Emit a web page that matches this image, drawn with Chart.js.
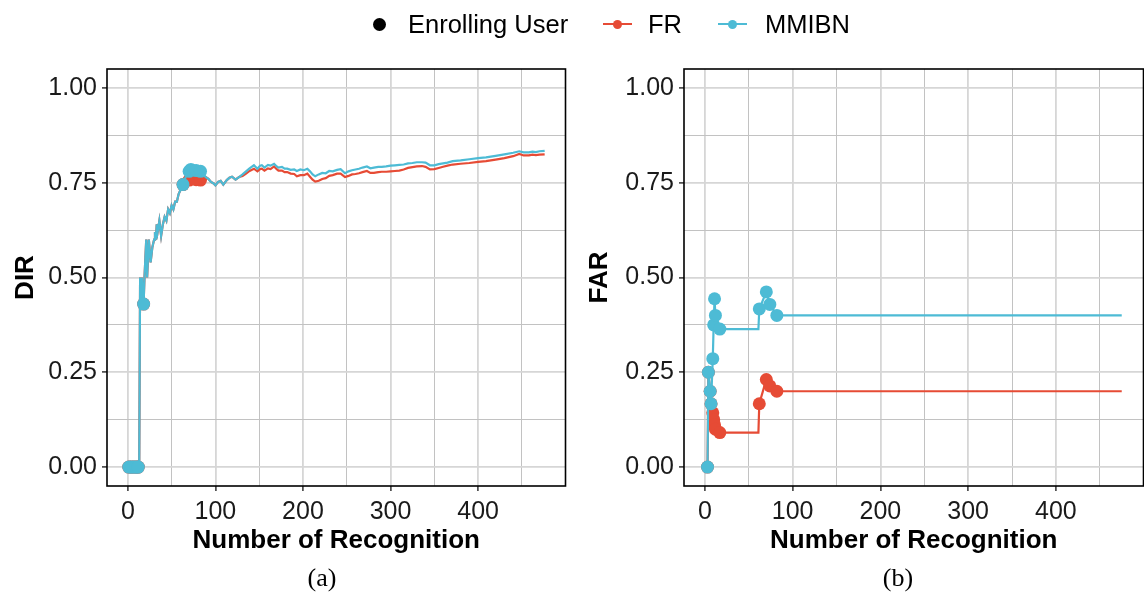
<!DOCTYPE html>
<html>
<head>
<meta charset="utf-8">
<script src="https://cdn.jsdelivr.net/npm/chart.js@4"></script>
<style>
  body { margin: 0; background: #fff; overflow: hidden; }
  #wrap { position: relative; width: 1144px; height: 593px; overflow: hidden; font-family: "Liberation Sans", Arial, sans-serif; color: #000; }
  canvas { position: absolute; top: 0; }
  .lg { position: absolute; top: 9px; font-size: 25.5px; line-height: 30px; white-space: nowrap; }
  .dot { position: absolute; border-radius: 50%; }
  .seg { position: absolute; height: 2px; }
  .cap { position: absolute; top: 563px; font-family: "Liberation Serif", "Times New Roman", serif; font-size: 26px; line-height: 30px; transform: translateX(-50%); }
</style>
</head>
<body>
<div id="wrap">
  <canvas id="dirChart" width="572" height="593" style="left:0"></canvas>
  <canvas id="farChart" width="578" height="593" style="left:572px"></canvas>

  <!-- legend -->
  <div class="dot" style="left:373px;top:18px;width:13px;height:13px;background:#000"></div>
  <div class="lg" style="left:408px">Enrolling User</div>
  <div class="seg" style="left:603px;top:23px;width:29px;background:#E64B35"></div>
  <div class="dot" style="left:613px;top:20px;width:9px;height:9px;background:#E64B35"></div>
  <div class="lg" style="left:648px">FR</div>
  <div class="seg" style="left:718px;top:23px;width:29px;background:#4DBBD5"></div>
  <div class="dot" style="left:728px;top:20px;width:9px;height:9px;background:#4DBBD5"></div>
  <div class="lg" style="left:765px">MMIBN</div>

  <div class="cap" style="left:322px">(a)</div>
  <div class="cap" style="left:898px">(b)</div>
</div>
<script>
const COLOR_FR = '#E64B35';
const COLOR_MMIBN = '#4DBBD5';

// (a) DIR vs number of recognition
const dirX = [
  1, 3, 5, 7, 9, 11, 12, 13, 14, 15,
  16, 17, 18, 19, 21, 22, 24, 26, 28, 30,
  31, 32, 33, 34, 36, 38, 40, 42, 44, 46,
  48, 50, 52, 54, 56, 58, 60, 63, 66, 70,
  72, 75, 78, 83, 86, 89, 92, 95, 98, 100,
  103, 106, 109, 113, 116, 119, 123, 127, 131, 135,
  139, 144, 148, 151, 153, 156, 160, 163, 167, 170,
  172, 176, 179, 182, 186, 190, 193, 197, 201, 205,
  208, 211, 214, 218, 222, 226, 230, 234, 239, 243,
  248, 252, 256, 260, 264, 268, 273, 277, 281, 286,
  290, 295, 300, 305, 310, 315, 320, 325, 330, 336,
  340, 345, 350, 355, 360, 365, 371, 380, 390, 400,
  409, 420, 430, 440, 447, 452, 458, 462, 466, 470,
  476
];
const dirMMIBN = [
  0, 0, 0, 0, 0, 0, 0, 0, 0.5, 0.43,
  0.5, 0.45, 0.43, 0.5, 0.6, 0.5, 0.6, 0.54, 0.58, 0.6,
  0.62, 0.6, 0.64, 0.62, 0.65, 0.61, 0.64, 0.66, 0.65, 0.68,
  0.67, 0.69, 0.68, 0.70, 0.70, 0.72, 0.73, 0.745, 0.765, 0.78,
  0.785, 0.778, 0.782, 0.78, 0.772, 0.765, 0.76, 0.752, 0.748, 0.743,
  0.752, 0.755, 0.745, 0.757, 0.763, 0.766, 0.758, 0.765, 0.772, 0.78,
  0.788, 0.796, 0.787, 0.795, 0.796, 0.79, 0.797, 0.795, 0.80, 0.793,
  0.79, 0.792, 0.787, 0.787, 0.784, 0.785, 0.781, 0.785, 0.783, 0.787,
  0.78, 0.772, 0.767, 0.772, 0.776, 0.775, 0.781, 0.78, 0.784, 0.786,
  0.775, 0.78, 0.783, 0.785, 0.787, 0.79, 0.793, 0.788, 0.79, 0.792,
  0.792, 0.793, 0.795, 0.796, 0.797, 0.798, 0.801, 0.802, 0.804, 0.804,
  0.803, 0.796, 0.796, 0.799, 0.801, 0.803, 0.807, 0.809, 0.812, 0.815,
  0.817, 0.821, 0.825, 0.829, 0.833, 0.83, 0.83, 0.832, 0.831, 0.833,
  0.834
];
const dirFR = [
  0, 0, 0, 0, 0, 0, 0, 0, 0.5, 0.43,
  0.5, 0.45, 0.43, 0.5, 0.6, 0.5, 0.6, 0.54, 0.58, 0.6,
  0.62, 0.6, 0.64, 0.62, 0.65, 0.61, 0.64, 0.66, 0.65, 0.68,
  0.67, 0.69, 0.68, 0.70, 0.70, 0.72, 0.73, 0.745, 0.755, 0.757,
  0.76, 0.755, 0.758, 0.757, 0.76, 0.765, 0.76, 0.752, 0.748, 0.743,
  0.752, 0.755, 0.745, 0.757, 0.763, 0.766, 0.758, 0.765, 0.768, 0.774,
  0.781, 0.787, 0.78, 0.786, 0.787, 0.782, 0.788, 0.786, 0.793, 0.786,
  0.782, 0.782, 0.778, 0.778, 0.774, 0.773, 0.767, 0.77, 0.77, 0.774,
  0.766, 0.758, 0.753, 0.755, 0.76, 0.762, 0.768, 0.77, 0.774, 0.774,
  0.765, 0.768, 0.772, 0.773, 0.775, 0.778, 0.781, 0.776, 0.776, 0.778,
  0.779, 0.779, 0.78, 0.781, 0.782, 0.785, 0.789, 0.791, 0.793, 0.794,
  0.792, 0.785, 0.786, 0.789, 0.792, 0.795, 0.798, 0.8, 0.802, 0.805,
  0.807, 0.811, 0.815, 0.82, 0.826, 0.822, 0.822, 0.824, 0.823, 0.824,
  0.825
];
const dirEnrollX = [1, 3, 5, 7, 9, 11, 12, 18, 63, 70, 72, 78, 83];

// (b) FAR vs number of recognition
const farX =      [3, 4, 6, 7, 9, 10, 11, 12, 13, 17, 61, 62, 70, 74, 82, 475];
const farMMIBN =  [0, 0.25, 0.2, 0.167, 0.286, 0.375, 0.444, 0.4, 0.364, 0.364, 0.364, 0.417, 0.462, 0.429, 0.4, 0.4];
const farFR =     [0, 0.25, 0.2, 0.167, 0.143, 0.125, 0.111, 0.1, 0.091, 0.091, 0.091, 0.167, 0.231, 0.214, 0.2, 0.2];
const farEnrollX = [3, 4, 6, 7, 9, 10, 11, 12, 17, 62, 70, 74, 82];

const xMajor = [0, 100, 200, 300, 400];
const yMajor = [0, 0.25, 0.5, 0.75, 1.0];

const isMajorX = v => xMajor.some(t => Math.abs(t - v) < 1e-6);
const isMajorY = v => yMajor.some(t => Math.abs(t - v) < 1e-6);

const panelBorder = {
  id: 'panelBorder',
  afterDraw(chart) {
    const { ctx, chartArea: a } = chart;
    ctx.save();
    ctx.strokeStyle = '#000';
    ctx.lineWidth = 1.6;
    ctx.strokeRect(a.left, a.top, a.right - a.left, a.bottom - a.top);
    ctx.restore();
  }
};

function gridFor(isMajor) {
  return {
    color: c => (c.tick && isMajor(c.tick.value)) ? '#d6d6d6' : '#c2c2c2',
    lineWidth: c => (c.tick && isMajor(c.tick.value)) ? 1.8 : 1,
    tickColor: c => (c.tick && isMajor(c.tick.value)) ? '#333' : 'rgba(0,0,0,0)',
    tickLength: 5,
    tickWidth: 1.5
  };
}

function series(label, xs, ys, enrollX, color, order) {
  return {
    label: label,
    data: xs.map((x, i) => ({ x: x, y: ys[i] })),
    borderColor: color,
    backgroundColor: color,
    borderWidth: 2.2,
    tension: 0,
    order: order,
    pointBorderWidth: 0,
    pointRadius: c => enrollX.includes(c.raw.x) ? 6.5 : 0,
    pointHoverRadius: 0
  };
}

function makeChart(id, yTitle, yWidth, yTitlePad, padRight, datasets) {
  return new Chart(document.getElementById(id), {
    type: 'line',
    data: { datasets: datasets },
    plugins: [panelBorder],
    options: {
      responsive: false,
      animation: false,
      devicePixelRatio: 1,
      layout: { padding: { top: 69, right: padRight, left: 0, bottom: 0 } },
      plugins: { legend: { display: false }, tooltip: { enabled: false } },
      scales: {
        x: {
          type: 'linear',
          min: -23.8,
          max: 499.8,
          afterFit: s => { s.height = 107; s.paddingLeft = 0; s.paddingRight = 0; },
          border: { display: false },
          grid: gridFor(isMajorX),
          ticks: {
            stepSize: 50,
            includeBounds: false,
            autoSkip: false,
            maxRotation: 0,
            minRotation: 0,
            padding: 6,
            color: '#1a1a1a',
            font: { family: 'Liberation Sans', size: 25 },
            callback: v => isMajorX(v) ? String(v) : ''
          },
          title: {
            display: true,
            text: 'Number of Recognition',
            color: '#000',
            font: { family: 'Liberation Sans', size: 26, weight: 'bold' },
            padding: { top: 0, bottom: 37 }
          }
        },
        y: {
          min: -0.05,
          max: 1.05,
          afterFit: s => { s.width = yWidth; s.paddingTop = 0; s.paddingBottom = 0; },
          border: { display: false },
          grid: gridFor(isMajorY),
          ticks: {
            stepSize: 0.125,
            includeBounds: false,
            autoSkip: false,
            padding: 5,
            color: '#1a1a1a',
            font: { family: 'Liberation Sans', size: 25 },
            callback: v => isMajorY(v) ? v.toFixed(2) : ''
          },
          title: {
            display: true,
            text: yTitle,
            color: '#000',
            font: { family: 'Liberation Sans', size: 26, weight: 'bold' },
            padding: { top: yTitlePad, bottom: 0 }
          }
        }
      }
    }
  });
}

makeChart('dirChart', 'DIR', 107, 10, 6, [
  series('MMIBN', dirX, dirMMIBN, dirEnrollX, COLOR_MMIBN, 0),
  series('FR', dirX, dirFR, dirEnrollX, COLOR_FR, 1)
]);

makeChart('farChart', 'FAR', 112, 12, 1, [
  series('MMIBN', farX, farMMIBN, farEnrollX, COLOR_MMIBN, 0),
  series('FR', farX, farFR, farEnrollX, COLOR_FR, 1)
]);
</script>
</body>
</html>
